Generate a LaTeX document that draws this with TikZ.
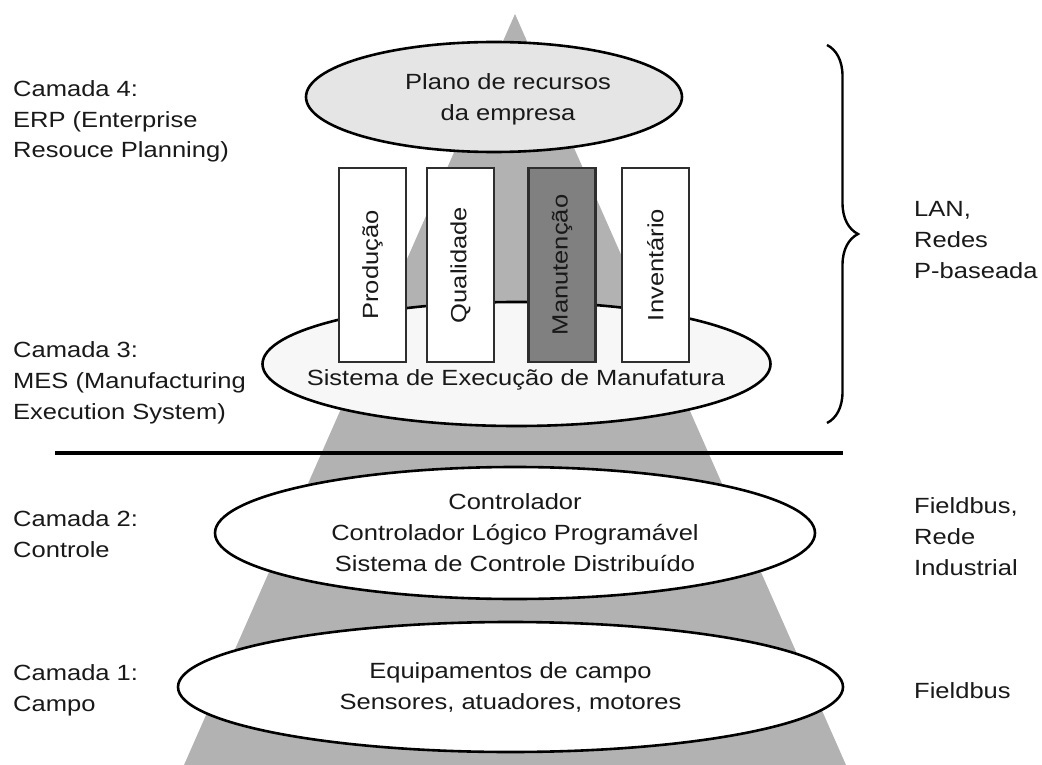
\documentclass[tikz,border=0pt]{standalone}
\usepackage{fontspec}
\setmainfont{Liberation Sans}[FakeStretch=1.16]
\usetikzlibrary{shapes.geometric,decorations.pathreplacing}

\definecolor{pyramid}{gray}{0.70}
\definecolor{erpfill}{gray}{0.90}
\definecolor{mesfill}{gray}{0.97}
\definecolor{darkmodule}{gray}{0.50}
\definecolor{moduleline}{gray}{0.18}
\definecolor{ink}{gray}{0.10}

\begin{document}
\begin{tikzpicture}[x=1pt,y=-1pt,
  txt/.style={font=\fontsize{22}{31}\selectfont, text=ink, inner sep=0pt},
  % multi-line labels are placed by the baseline of their last line
  lbl/.style={txt, anchor=base west, align=left},
  layer/.style={ellipse, draw=black, line width=2.6pt, inner sep=0pt, txt, align=center},
  module/.style={rectangle, draw=moduleline, line width=2.4pt, fill=white, rotate=90,
    minimum width=194pt, minimum height=67pt, txt},
]
\useasboundingbox (0,0) rectangle (1042,765);

% background pyramid
\coordinate (apex) at (515,14);
\coordinate (baseR) at (846,765);
\coordinate (baseL) at (184,765);
\fill[pyramid] (apex) -- (baseR) -- (baseL) -- cycle;

% layer 4: ERP
\node[layer, fill=erpfill, minimum width=376pt, minimum height=110pt] (erp) at (494,97) {};
\node[txt, align=center] (erpText) at (508,99) {Plano de recursos\\da empresa};

% layer 3: MES with its modules
\node[layer, fill=mesfill, minimum width=508pt, minimum height=124pt] (mes) at (516.5,364) {};
\node[module] (prod) at (372.5,265) {Produção};
\node[module] (qual) at (460.5,265) {Qualidade};
\node[module, fill=darkmodule] (manut) at (562,265) {Manutenção};
\node[module] (inv) at (655.5,265) {Inventário};
\node[txt, anchor=base] (mesText) at (516,385) {Sistema de Execução de Manufatura};

% separator between IT and control levels
\coordinate (sepL) at (55,453);
\coordinate (sepR) at (843,453);
\draw[line width=4pt] (sepL) -- (sepR);

% layer 2 and layer 1
\node[layer, fill=white, minimum width=600pt, minimum height=132pt] (ctrl) at (515,533)
  {Controlador\\Controlador Lógico Programável\\Sistema de Controle Distribuído};
\node[layer, fill=white, minimum width=665pt, minimum height=130pt] (field) at (510.5,687)
  {Equipamentos de campo\\Sensores, atuadores, motores};

% layer names on the left
\node[lbl] (l4) at (13,158) {Camada 4:\\ERP (Enterprise\\Resouce Planning)};
\node[lbl] (l3) at (13,419) {Camada 3:\\MES (Manufacturing\\Execution System)};
\node[lbl] (l2) at (13,557) {Camada 2:\\Controle};
\node[lbl] (l1) at (13,711) {Camada 1:\\Campo};

% networks on the right
\coordinate (braceTop) at (827,45);
\coordinate (braceBot) at (827,423);
\draw[line width=2.4pt, decorate, decoration={brace, amplitude=31pt}] (braceTop) -- (braceBot);
\node[lbl] (n34) at (914,278) {LAN,\\Redes\\P-baseada};
\node[lbl] (n2) at (914,575) {Fieldbus,\\Rede\\Industrial};
\node[lbl] (n1) at (914,698) {Fieldbus};
\end{tikzpicture}
\end{document}
